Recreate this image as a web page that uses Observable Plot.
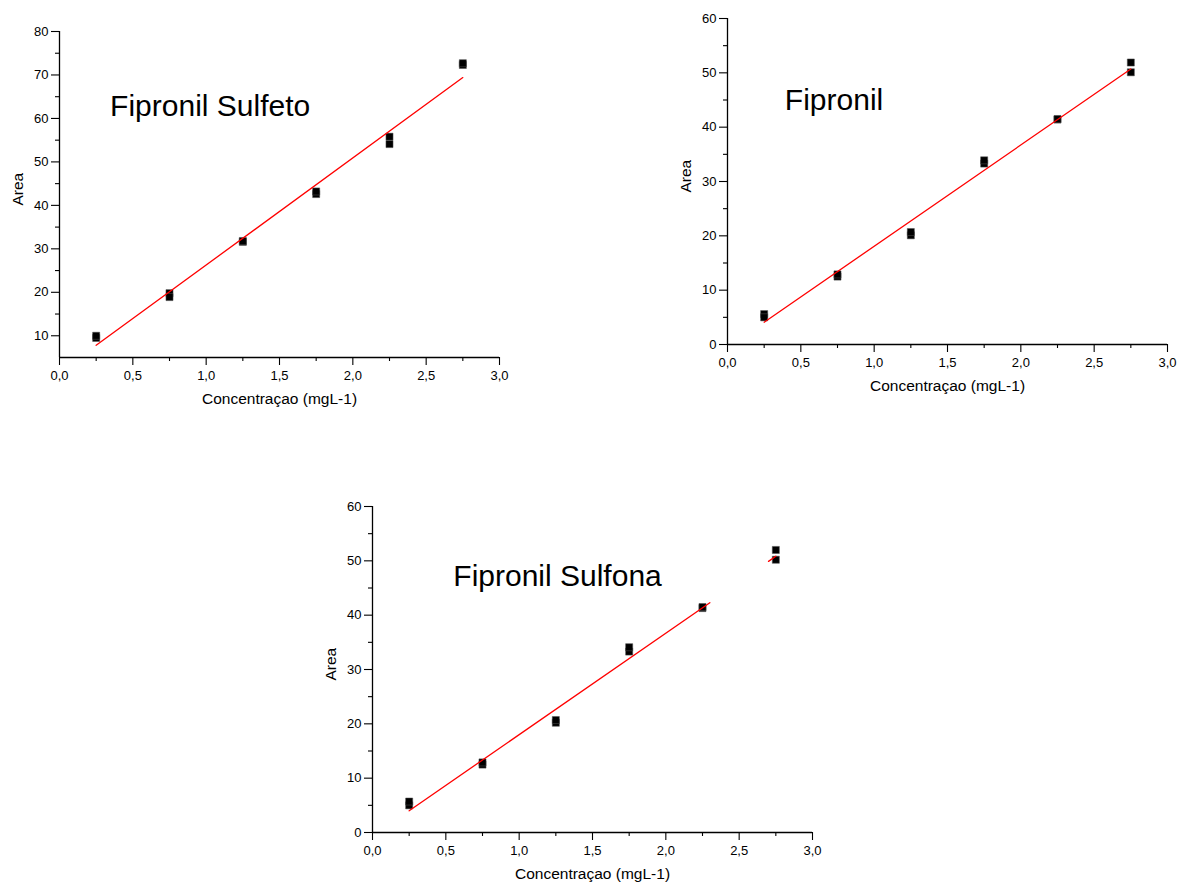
<!DOCTYPE html>
<html>
<head>
<meta charset="utf-8">
<script src="https://cdn.jsdelivr.net/npm/d3@7"></script>
<script src="https://cdn.jsdelivr.net/npm/@observablehq/plot@0.6"></script>
<style>
  html, body { margin: 0; padding: 0; background: #fff; }
  #wrap { position: relative; width: 1178px; height: 884px; background: #fff; font-family: "Liberation Sans", Arial, sans-serif; }
  .panel { position: absolute; }
  .panel svg { overflow: visible; }
</style>
</head>
<body>
<div id="wrap"></div>
<script>
// ---- Data ----
const concentration = [0.25, 0.25, 0.75, 0.75, 1.25, 1.25, 1.75, 1.75, 2.25, 2.25, 2.75, 2.75];
const areaSulfeto   = [9.5, 10.0, 19.8, 18.9, 31.6, 31.8, 42.6, 43.2, 55.8, 54.1, 72.3, 72.7];
const areaFipronil  = [5.6, 5.0, 12.5, 12.9, 20.1, 20.7, 33.3, 33.9, 41.4, 41.5, 51.9, 50.1];
const areaSulfona   = [5.0, 5.7, 12.5, 12.9, 20.2, 20.7, 33.3, 34.1, 41.3, 41.5, 52.0, 50.2];

// fitted lines (end points)
const fitSulfetoX  = [0.25, 2.75];
const fitSulfetoY  = [7.8, 69.4];
const fitFipronilX = [0.25, 2.75];
const fitFipronilY = [4.1, 50.7];
const fitSulfonaX  = [[0.25, 2.30], [2.70, 2.75]];
const fitSulfonaY  = [[4.0, 42.3], [49.9, 50.85]];

const titles = ["Fipronil Sulfeto", "Fipronil", "Fipronil Sulfona"];
const xLabel = "Concentraçao (mgL-1)";
const yLabel = "Area";

const xMajorTicks = [0, 0.5, 1.0, 1.5, 2.0, 2.5, 3.0];
const xMinorTicks = [0.25, 0.75, 1.25, 1.75, 2.25, 2.75];
const ySulfetoMajor = [10, 20, 30, 40, 50, 60, 70, 80];
const ySulfetoMinor = [15, 25, 35, 45, 55, 65, 75];
const yFipMajor = [0, 10, 20, 30, 40, 50, 60];
const yFipMinor = [5, 15, 25, 35, 45, 55];

// ---- Drawing ----
const FONT = '"Liberation Sans", Arial, sans-serif';
const comma = d => d.toFixed(1).replace(".", ",");

function panel({left, top, width, height, mL, mR, mT, mB, yDomain, yMajor, yMinor,
                areas, fitX, fitY, title, titleX, titleY}) {
  const pts = concentration.map((c, i) => ({x: c, y: areas[i]}));
  const segs = Array.isArray(fitX[0]) ? fitX.map((xs, k) => xs.map((x, j) => ({x, y: fitY[k][j], k})))
                                      : [fitX.map((x, j) => ({x, y: fitY[j], k: 0}))];
  const fit = segs.flat();
  const chart = Plot.plot({
    width, height,
    marginLeft: mL, marginRight: mR, marginTop: mT, marginBottom: mB,
    style: {fontFamily: FONT, fontSize: "13px", color: "#000", background: "transparent", overflow: "visible"},
    x: {domain: [0, 3]},
    y: {domain: yDomain},
    marks: [
      Plot.axisX(xMajorTicks, {tickSize: 8, tickPadding: 5.5, tickFormat: comma, label: null, fontSize: 13, strokeWidth: 1.1}),
      Plot.axisX(xMinorTicks, {tickSize: 4, tickFormat: () => "", label: null, strokeWidth: 1.1}),
      Plot.axisY(yMajor, {tickSize: 8, tickPadding: 3, label: null, fontSize: 13, strokeWidth: 1.1}),
      Plot.axisY(yMinor, {tickSize: 4, tickFormat: () => "", label: null, strokeWidth: 1.1}),
      Plot.ruleX([0], {stroke: "#000", strokeWidth: 1.3}),
      Plot.ruleY([yDomain[0]], {stroke: "#000", strokeWidth: 1.3}),
      Plot.dot(pts, {x: "x", y: "y", symbol: "square", r: 4, fill: "#000", stroke: "#555", strokeWidth: 0.5}),
      Plot.line(fit, {x: "x", y: "y", z: "k", stroke: "#ff0000", strokeWidth: 1.3}),
      Plot.text([title], {x: () => titleX, y: () => titleY, text: d => d, textAnchor: "start", lineAnchor: "bottom", fontSize: 30, fill: "#000"}),
      Plot.text([yLabel], {frameAnchor: "left", text: d => d, rotate: -90, dx: -41, dy: 11, fontSize: 15.5, fill: "#000"}),
      Plot.text([xLabel], {frameAnchor: "bottom", text: d => d, lineAnchor: "bottom", dy: 46, fontSize: 15.5, fill: "#000"})
    ]
  });
  const div = document.createElement("div");
  div.className = "panel";
  div.style.left = left + "px";
  div.style.top = top + "px";
  div.style.width = width + "px";
  div.style.height = height + "px";
  div.appendChild(chart);
  document.getElementById("wrap").appendChild(div);
}

panel({left: 0, top: 0, width: 520, height: 420, mL: 59, mR: 21, mT: 31, mB: 63,
       yDomain: [5, 80], yMajor: ySulfetoMajor, yMinor: ySulfetoMinor,
       areas: areaSulfeto, fitX: fitSulfetoX, fitY: fitSulfetoY,
       title: titles[0], titleX: 0.345, titleY: 60.6});

panel({left: 660, top: 0, width: 518, height: 400, mL: 67, mR: 11, mT: 18, mB: 56,
       yDomain: [0, 60], yMajor: yFipMajor, yMinor: yFipMinor,
       areas: areaFipronil, fitX: fitFipronilX, fitY: fitFipronilY,
       title: titles[1], titleX: 0.391, titleY: 43.2});

panel({left: 300, top: 480, width: 540, height: 404, mL: 72, mR: 28, mT: 26, mB: 52,
       yDomain: [0, 60], yMajor: yFipMajor, yMinor: yFipMinor,
       areas: areaSulfona, fitX: fitSulfonaX, fitY: fitSulfonaY,
       title: titles[2], titleX: 0.551, titleY: 45.3});
</script>
</body>
</html>
